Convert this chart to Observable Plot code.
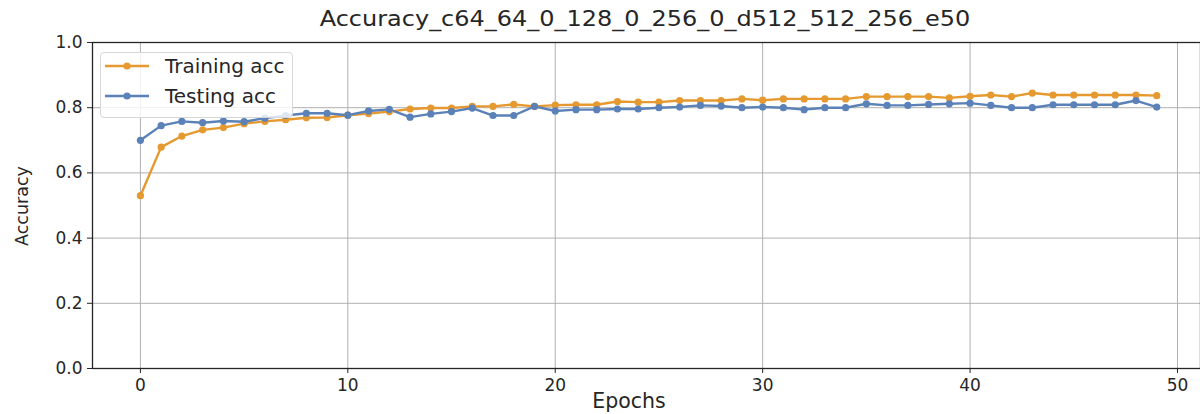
<!DOCTYPE html>
<html>
<head>
<meta charset="utf-8">
<script src="https://cdn.jsdelivr.net/npm/d3@7"></script>
<script src="https://cdn.jsdelivr.net/npm/@observablehq/plot@0.6"></script>
<style>
  html, body { margin: 0; padding: 0; background: white; }
  #wrap { position: relative; width: 1200px; height: 414px; font-family: "DejaVu Sans", sans-serif; color: #262626; }
  #title { position: absolute; top: 6px; left: 645px; font-size: 22px; white-space: nowrap; transform: translateX(-50%) scaleX(1.09); }
  #ylabel { position: absolute; left: 22px; top: 206px; font-size: 17.5px; transform: translate(-50%, -50%) rotate(-90deg); white-space: nowrap; }
  #xlabel { position: absolute; left: 629px; top: 389px; font-size: 20.5px; transform: translateX(-50%); }
  #legend { position: absolute; left: 100px; top: 52px; width: 193px; height: 66px; background: rgba(255,255,255,0.8); border: 1px solid #d6d6d6; border-radius: 4px; box-sizing: border-box; }
  .lrow { position: absolute; left: 4px; height: 24px; display: flex; align-items: center; font-size: 20px; white-space: nowrap; }
  .lrow svg { margin-right: 16px; }
</style>
</head>
<body>
<div id="wrap">
  <div id="chart"></div>
  <div id="title"></div>
  <div id="ylabel"></div>
  <div id="xlabel"></div>
  <div id="legend"></div>
</div>
<script>
const chartTitle = "Accuracy_c64_64_0_128_0_256_0_d512_512_256_e50";
const xLabel = "Epochs";
const yLabel = "Accuracy";
const seriesNames = ["Training acc", "Testing acc"];
const seriesColors = ["#e5992f", "#5a81b8"];
const xTicks = [0, 10, 20, 30, 40, 50];
const yTicks = [0.0, 0.2, 0.4, 0.6, 0.8, 1.0];

const trainingAcc = [0.530, 0.679, 0.713, 0.732, 0.739, 0.751, 0.758, 0.763, 0.769, 0.770,
  0.777, 0.782, 0.788, 0.796, 0.799, 0.799, 0.804, 0.804, 0.810, 0.804,
  0.808, 0.809, 0.809, 0.819, 0.817, 0.817, 0.822, 0.822, 0.822, 0.827,
  0.823, 0.827, 0.827, 0.827, 0.827, 0.834, 0.834, 0.834, 0.834, 0.830,
  0.835, 0.839, 0.834, 0.845, 0.839, 0.839, 0.839, 0.839, 0.839, 0.837];
const testingAcc = [0.700, 0.745, 0.758, 0.754, 0.759, 0.757, 0.768, 0.776, 0.783, 0.783,
  0.777, 0.790, 0.795, 0.771, 0.781, 0.788, 0.799, 0.776, 0.776, 0.804,
  0.790, 0.794, 0.794, 0.796, 0.796, 0.800, 0.802, 0.807, 0.805, 0.800,
  0.802, 0.800, 0.794, 0.800, 0.800, 0.812, 0.807, 0.807, 0.810, 0.812,
  0.814, 0.807, 0.800, 0.800, 0.809, 0.809, 0.809, 0.809, 0.822, 0.802];

const seriesValues = [trainingAcc, testingAcc];
const data = seriesValues.flatMap((vals, s) => vals.map((v, i) => ({epoch: i, acc: v, series: seriesNames[s]})));

const chart = Plot.plot({
  width: 1200, height: 414,
  marginTop: 42, marginBottom: 46, marginLeft: 92, marginRight: 0,
  style: {fontFamily: "DejaVu Sans, sans-serif", fontSize: "17px", color: "#262626", background: "white"},
  x: {domain: [-2.31, 51.11]},
  y: {domain: [0, 1]},
  color: {domain: seriesNames, range: seriesColors},
  marks: [
    Plot.gridX(xTicks, {stroke: "#b0b0b0", strokeOpacity: 1, strokeWidth: 1}),
    Plot.gridY(yTicks.slice(1, -1), {stroke: "#b0b0b0", strokeOpacity: 1, strokeWidth: 1}),
    Plot.line(data, {x: "epoch", y: "acc", z: "series", stroke: "series", strokeWidth: 2.4}),
    Plot.dot(data, {x: "epoch", y: "acc", fill: "series", r: 3.6, stroke: null}),
    Plot.frame({stroke: "#262626", strokeWidth: 1.3}),
    Plot.axisX({ticks: xTicks, tickSize: 5, tickPadding: 5, label: null, stroke: "#262626"}),
    Plot.axisY({ticks: yTicks, tickSize: 5, tickPadding: 5, tickFormat: d3.format(".1f"), label: null, stroke: "#262626"})
  ]
});
document.getElementById("chart").appendChild(chart);
document.getElementById("title").textContent = chartTitle;
document.getElementById("xlabel").textContent = xLabel;
document.getElementById("ylabel").textContent = yLabel;

const legend = document.getElementById("legend");
seriesNames.forEach((name, i) => {
  const row = document.createElement("div");
  row.className = "lrow";
  row.style.top = (1 + i * 30) + "px";
  row.innerHTML = `<svg width="44" height="10"><line x1="0" y1="5" x2="44" y2="5" stroke="${seriesColors[i]}" stroke-width="2.4"/><circle cx="22" cy="5" r="3.6" fill="${seriesColors[i]}"/></svg><span></span>`;
  row.querySelector("span").textContent = name;
  legend.appendChild(row);
});
</script>
</body>
</html>
